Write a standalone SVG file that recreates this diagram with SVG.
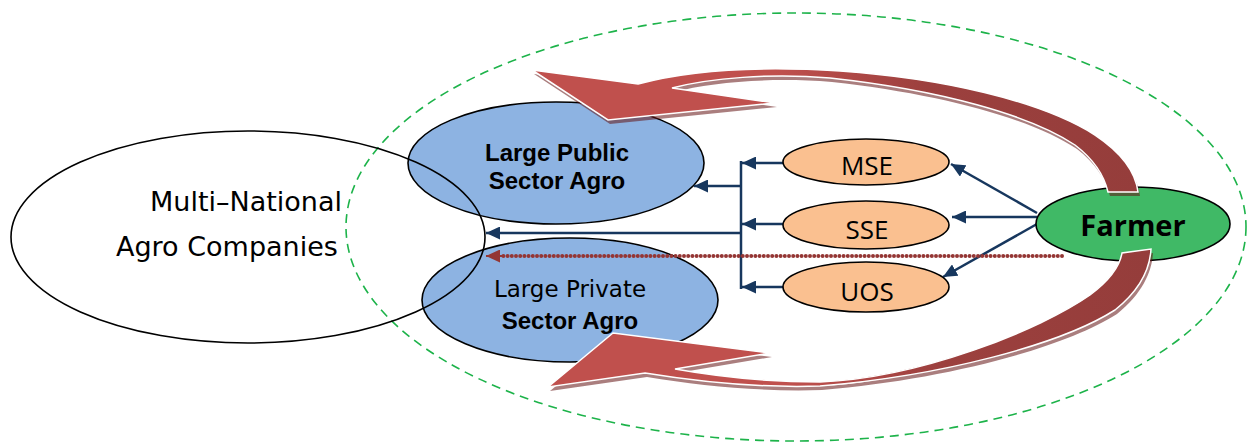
<svg xmlns="http://www.w3.org/2000/svg" width="1247" height="444" viewBox="0 0 1247 444">
<defs>
<style>
.big{fill:none;stroke:#000;stroke-width:1.6}
.blue{fill:#8db3e2;stroke:#000;stroke-width:1.6}
.org{fill:#fac090;stroke:#000;stroke-width:1.6}
.t1{font-family:"DejaVu Sans",sans-serif;font-size:27px;fill:#000}
.tb{font-family:"Liberation Sans",Arial,sans-serif;font-weight:bold;font-size:24px;fill:#000;text-anchor:middle}
.tr{font-family:"DejaVu Sans",sans-serif;font-size:23px;fill:#000;text-anchor:middle}
.ts{font-family:"Open Sans",sans-serif;font-size:26px;fill:#000;text-anchor:middle}
.con{stroke:#17375e;stroke-width:2.5;fill:none;marker-end:url(#ab)}
.shadow{fill:#641414;opacity:0.55}
</style>
<marker id="ab" markerUnits="userSpaceOnUse" markerWidth="15" markerHeight="13" refX="14" refY="6.5" orient="auto" viewBox="0 0 15 13">
<path d="M0,0 L14,6.5 L0,13 z" fill="#17375e"/>
</marker>
<marker id="ar" markerUnits="userSpaceOnUse" markerWidth="15" markerHeight="13" refX="14" refY="6.5" orient="auto" viewBox="0 0 15 13">
<path d="M0,0 L14,6.5 L0,13 z" fill="#943634"/>
</marker>
<linearGradient id="gt" gradientUnits="userSpaceOnUse" x1="530" y1="0" x2="1140" y2="0">
<stop offset="0" stop-color="#c0504d"/>
<stop offset="0.4" stop-color="#c0504d"/>
<stop offset="0.65" stop-color="#9c403e"/>
<stop offset="1" stop-color="#953d3b"/>
</linearGradient>
<linearGradient id="gb" gradientUnits="userSpaceOnUse" x1="545" y1="0" x2="1150" y2="0">
<stop offset="0" stop-color="#c0504d"/>
<stop offset="0.4" stop-color="#c0504d"/>
<stop offset="0.65" stop-color="#9c403e"/>
<stop offset="1" stop-color="#953d3b"/>
</linearGradient>
<path id="topArrow" d="M532,70 L638,84 C690,70 760,66 840,71 C940,78 1040,100 1095,135 C1125,155 1136,175 1138,192 L1108,192 C1104,175 1092,158 1075,145 C1030,115 940,90 830,78 C770,73 710,78 672,88 L775,103 L608,120 Z"/>
<path id="botArrow" d="M548,387 L613,333 L770,353 L675,369 C720,377 770,382 820,382 C920,378 1040,330 1090,295 C1110,280 1120,265 1122,253 L1151,249 C1150,268 1140,290 1115,310 C1060,345 940,376 820,386 C760,388 700,382 645,373 Z"/>
</defs>

<ellipse id="boundary" cx="796" cy="227" rx="450" ry="214" fill="none" stroke="#1db34a" stroke-width="1.6" stroke-dasharray="9 6"/>

<g id="large-public">
<ellipse class="blue" cx="556" cy="163" rx="148" ry="61"/>
<text class="tb" x="557" y="161">Large Public</text>
<text class="tb" x="557" y="189">Sector Agro</text>
</g>

<g id="large-private">
<ellipse class="blue" cx="570" cy="300" rx="148" ry="62"/>
<text class="tr" x="570" y="297">Large Private</text>
<text class="tb" x="570" y="329">Sector Agro</text>
</g>

<g id="multinational">
<ellipse class="big" cx="248" cy="237" rx="237" ry="106"/>
<text class="t1" x="150" y="211">Multi–National</text>
<text class="t1" x="116" y="256">Agro Companies</text>
</g>

<g id="connectors">
<line class="con" x1="784" y1="163" x2="742" y2="163"/>
<line class="con" x1="784" y1="224" x2="742" y2="224"/>
<line class="con" x1="784" y1="287" x2="742" y2="287"/>
<line x1="741" y1="161" x2="741" y2="289" stroke="#17375e" stroke-width="2.5"/>
<line class="con" x1="741" y1="186" x2="694" y2="186"/>
<line class="con" x1="741" y1="233" x2="486" y2="233"/>
<line class="con" x1="1037" y1="213" x2="951" y2="164"/>
<line class="con" x1="1037" y1="217" x2="952" y2="217"/>
<line class="con" x1="1037" y1="224" x2="943" y2="277"/>
<line x1="1062" y1="256" x2="500" y2="256" stroke="#943634" stroke-width="4" stroke-linecap="round" stroke-dasharray="0 4.2"/>
<line x1="502" y1="256" x2="486" y2="256" stroke="#943634" stroke-width="2" marker-end="url(#ar)"/>
</g>

<g id="mse">
<ellipse class="org" cx="866" cy="162" rx="83" ry="23"/>
<text class="ts" x="867" y="175">MSE</text>
</g>
<g id="sse">
<ellipse class="org" cx="866" cy="225" rx="83" ry="24"/>
<text class="ts" x="867" y="239">SSE</text>
</g>
<g id="uos">
<ellipse class="org" cx="866" cy="287" rx="83" ry="25"/>
<text class="ts" x="867" y="301">UOS</text>
</g>

<g id="farmer">
<ellipse cx="1133" cy="224" rx="97" ry="37" fill="#40b966" stroke="#000" stroke-width="1.6"/>
<text x="1133" y="236" font-family="Open Sans, sans-serif" font-weight="bold" font-size="29" text-anchor="middle" fill="#000">Farmer</text>
</g>

<g id="top-curved-arrow">
<use href="#topArrow" class="shadow" transform="translate(2,4)"/>
<use href="#topArrow" fill="url(#gt)" stroke="#fff" stroke-width="1.5"/>
</g>
<g id="bottom-curved-arrow">
<use href="#botArrow" class="shadow" transform="translate(2,4)"/>
<use href="#botArrow" fill="url(#gb)" stroke="#fff" stroke-width="1.5"/>
</g>
</svg>
